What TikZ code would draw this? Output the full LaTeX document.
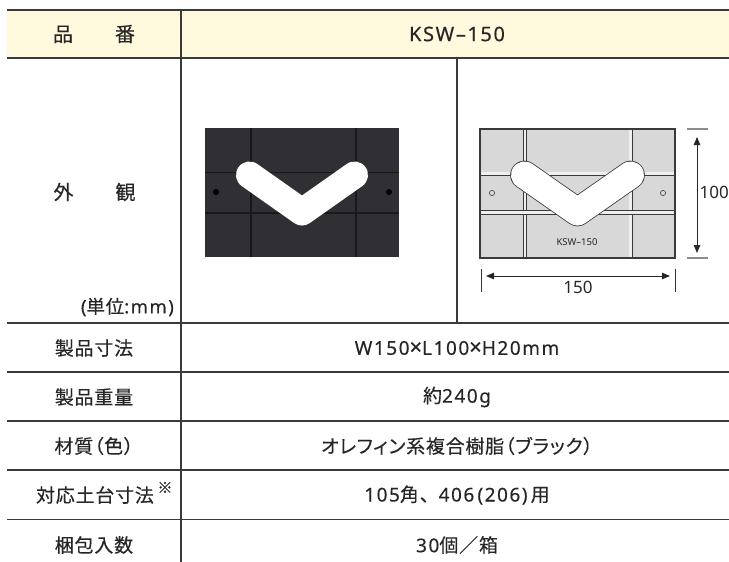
\documentclass[tikz,border=0pt]{standalone}
\usepackage{fontspec}
\setmainfont{Noto Sans}[LetterSpace=8,FakeBold=0.3]
\newfontfamily\plain{Noto Sans}
\newfontfamily\cjk{Noto Sans CJK JP}[LetterSpace=4,RawFeature=+palt,FakeBold=0.3]
\newfontfamily\cjkf{Noto Sans CJK JP}[LetterSpace=4,FakeBold=0.3]
\usetikzlibrary{arrows.meta}
\definecolor{hdr}{HTML}{FFFADE}
\definecolor{rulec}{HTML}{3A3A3A}
\definecolor{txt}{HTML}{262626}
\definecolor{photo}{HTML}{2F2F34}
\definecolor{photoline}{HTML}{19191C}
\definecolor{plate}{HTML}{D8D8D8}
\definecolor{groove}{HTML}{EFEFEF}
\definecolor{dimgray}{HTML}{8C8C8C}
\newcommand{\bigx}{{\fontsize{22}{19}\selectfont ×}}
\begin{document}
\begin{tikzpicture}[x=1pt,y=-1pt,
  cell/.style={text=txt,font=\fontsize{19}{19}\selectfont,inner sep=0pt,anchor=center},
  hcell/.style={cell,font=\fontsize{20}{20}\selectfont},
  hline/.style={draw=rulec,line width=1.3pt},
  vline/.style={draw=rulec,line width=1.1pt},
  pline/.style={draw=photoline,line width=1.8pt},
  grooveline/.style={draw=rulec,line width=0.7pt,double=groove,double distance=2.8pt},
  vee/.style={line cap=round,line join=round},
  dimarrow/.style={draw=black!85,line width=0.9pt,{Triangle[length=8pt,width=6.5pt]}-{Triangle[length=8pt,width=6.5pt]}},
  dimtick/.style={draw=dimgray,line width=1.1pt},
  dimtickb/.style={draw=black!80,line width=0.8pt},
  dimtext/.style={text=txt,font=\plain\fontsize{17}{17}\selectfont,inner sep=0pt}
]
\useasboundingbox (0,0) rectangle (729,562);
% header background
\fill[hdr] (7,10) rectangle (729,58);
% horizontal rules
\draw[hline] (7,10) -- (729,10);
\draw[hline] (7,58) -- (729,58);
\draw[hline] (7,323) -- (729,323);
\draw[hline] (7,372) -- (729,372);
\draw[hline] (7,421) -- (729,421);
\draw[hline] (7,470) -- (729,470);
\draw[hline] (7,519.5) -- (729,519.5);
% vertical rules
\draw[vline] (181,10) -- (181,562);
\draw[vline] (457,58) -- (457,323);

% ---- photo (left) ----
\fill[photo] (205,128) rectangle (399,257);
\draw[pline] (251,128) -- (251,257);
\draw[pline] (356,128) -- (356,257);
\draw[pline] (205,172.5) -- (399,172.5);
\draw[pline] (205,213) -- (399,213);
\fill[black] (216,192) circle (3);
\fill[black] (389,192) circle (3);
\draw[vee,white,line width=27pt] (249.5,175) -- (302,212) -- (354.5,175);

% ---- drawing (right) ----
\fill[plate] (480,129) rectangle (675,258);
\draw[grooveline] (525,129) -- (525,258);
\draw[grooveline] (630.7,129) -- (630.7,258);
\draw[grooveline] (480,173.7) -- (675,173.7);
\draw[grooveline] (480,212.5) -- (675,212.5);
\draw[draw=rulec,line width=1.1pt] (480,129) rectangle (675,258);
\draw[draw=rulec,line width=0.6pt] (492,193) circle (2.6);
\draw[draw=rulec,line width=0.6pt] (663,193) circle (2.6);
\draw[vee,rulec,line width=28.6pt] (524.5,175) -- (577.5,212) -- (630.5,175);
\draw[vee,white,line width=27pt] (524.5,175) -- (577.5,212) -- (630.5,175);
\node[text=txt,font=\plain\fontsize{9.5}{9.5}\selectfont,inner sep=0pt] (platelabel) at (577,242.5) {KSW–150};

% dimensions
\coordinate (vt1) at (687,129); \coordinate (vt2) at (708,129);
\coordinate (vb1) at (687,258); \coordinate (vb2) at (708,258);
\draw[dimtick] (vt1) -- (vt2);
\draw[dimtick] (vb1) -- (vb2);
\coordinate (va1) at (697,137); \coordinate (va2) at (697,253);
\draw[dimarrow] (va1) -- (va2);
\node[dimtext,anchor=west] (dim100) at (699.5,192) {100};
\coordinate (hl1) at (481.5,269); \coordinate (hl2) at (481.5,292);
\coordinate (hr1) at (675,269); \coordinate (hr2) at (675,292);
\draw[dimtickb] (hl1) -- (hl2);
\draw[dimtickb] (hr1) -- (hr2);
\coordinate (ha1) at (486,276); \coordinate (ha2) at (670,276);
\draw[dimarrow] (ha1) -- (ha2);
\node[dimtext] (dim150) at (578,287) {150};

% ---- texts ----
\node[hcell] (hinban) at (94,34) {\cjk 品\hspace{2.1em}番};
\node[hcell] (model) at (457,34) {KSW–150};
\node[hcell] (gaikan) at (94.5,192) {\cjk 外\hspace{2.1em}観};
\node[cell,anchor=east,font=\fontsize{18.5}{18.5}\selectfont] (unit) at (174,307) {({\cjk 単位}:mm)};
\node[cell] (l1) at (94,348) {\cjk 製品寸法};
\node[cell] (r1) at (457,348) {W150\bigx L100\bigx H20mm};
\node[cell] (l2) at (94,397) {\cjk 製品重量};
\node[cell] (r2) at (457,397) {{\cjk 約}240g};
\node[cell] (l3) at (94,446) {\cjk 材質（色）};
\node[cell] (r3) at (457,446) {\cjk オレフィン系複合樹脂（ブラック）};
\node[cell] (l4) at (95,495) {\cjk 対応土台寸法};
\node[cell,font=\cjkf\fontsize{15}{15}\selectfont] (note) at (165,487.5) {※};
\node[cell] (r4) at (457,495) {105{\cjkf 角、}406\,(206)\,{\cjkf 用}};
\node[cell] (l5) at (94,545) {\cjk 梱包入数};
\node[cell] (r5) at (457,545) {30{\cjkf 個／箱}};
\end{tikzpicture}
\end{document}
